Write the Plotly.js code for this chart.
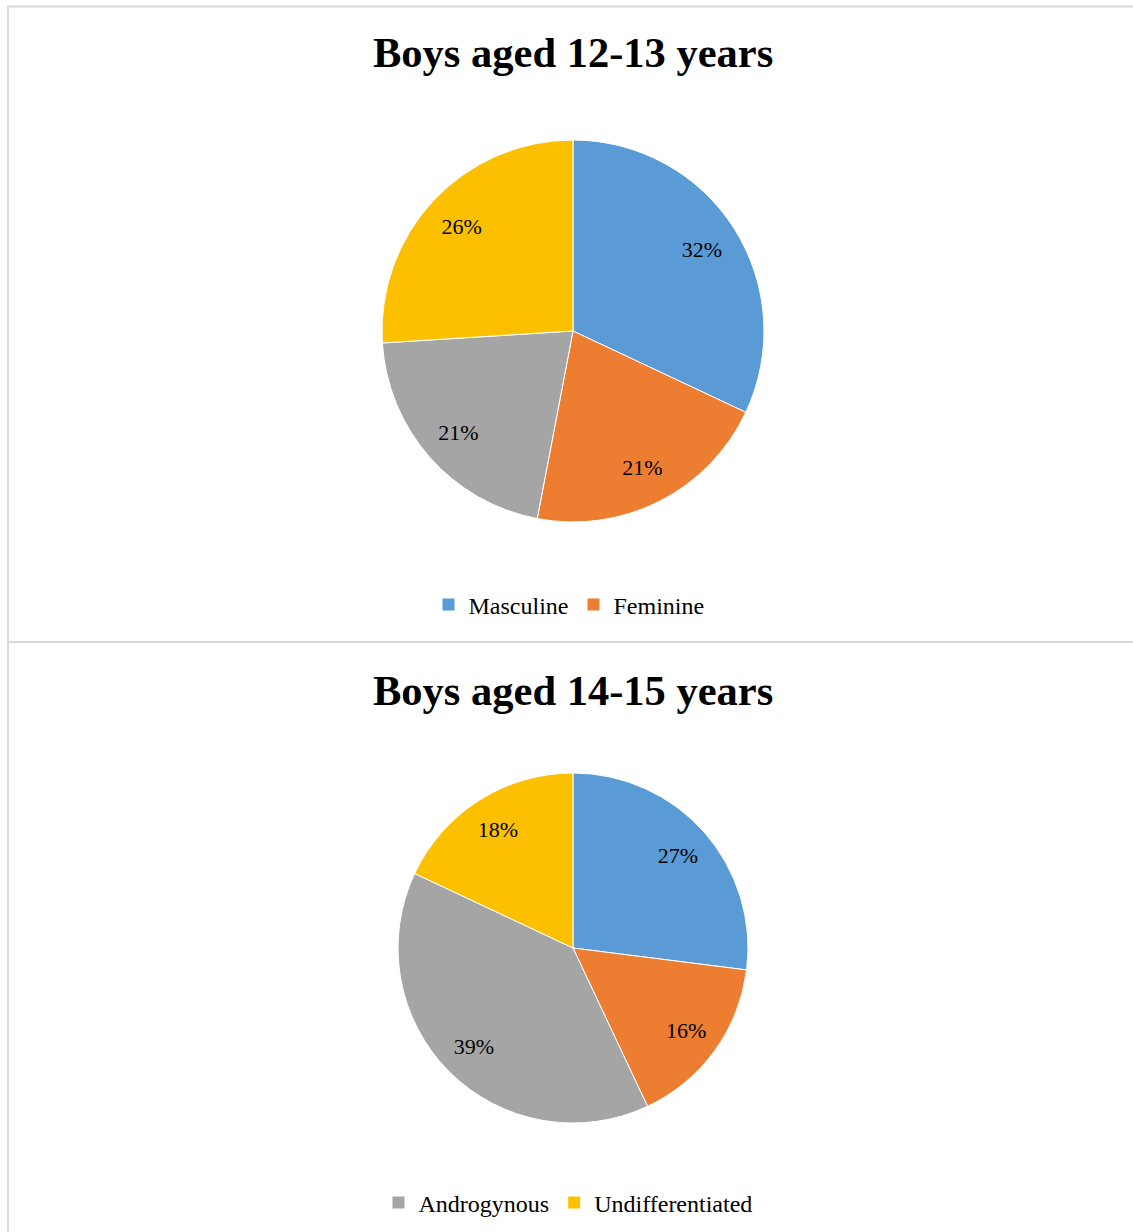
<!DOCTYPE html>
<html>
<head>
<meta charset="utf-8">
<script src="https://cdn.plot.ly/plotly-3.0.1.min.js"></script>
<style>html,body{margin:0;padding:0;background:#fff;}#chart{width:1133px;height:1232px;}</style>
</head>
<body>
<div id="chart"></div>
<script>
const categories = ["Masculine", "Feminine", "Androgynous", "Undifferentiated"];
const values1213 = [32, 21, 21, 26];
const values1415 = [27, 16, 39, 18];
const titles = ["Boys aged 12-13 years", "Boys aged 14-15 years"];
const legendTop = ["Masculine", "Feminine"];
const legendBottom = ["Androgynous", "Undifferentiated"];
const colors = ["#5b9bd5", "#ed7d31", "#a5a5a5", "#fcc000"];

const FONT = "Liberation Serif, Times New Roman, serif";
const W = 1133, H = 1232;

function pie(values, cx, cy, r) {
  return {
    type: "pie",
    labels: categories,
    values: values,
    sort: false,
    direction: "clockwise",
    rotation: 0,
    marker: {colors: colors, line: {color: "#ffffff", width: 1}},
    textinfo: "none",
    hoverinfo: "label+percent",
    showlegend: false,
    domain: {x: [(cx - r) / W, (cx + r) / W], y: [1 - (cy + r) / H, 1 - (cy - r) / H]}
  };
}
// transparent ring carrying the percentage labels, so they sit near the rim as in the reference
function labelRing(values, cx, cy, r) {
  return {
    type: "pie",
    labels: categories,
    values: values,
    sort: false,
    direction: "clockwise",
    rotation: 0,
    hole: 0.6,
    marker: {colors: ["rgba(0,0,0,0)", "rgba(0,0,0,0)", "rgba(0,0,0,0)", "rgba(0,0,0,0)"], line: {width: 0}},
    texttemplate: "%{percent:.0%}",
    textposition: "inside",
    insidetextorientation: "horizontal",
    textfont: {family: FONT, size: 22, color: "#000000"},
    hoverinfo: "skip",
    showlegend: false,
    domain: {x: [(cx - r) / W, (cx + r) / W], y: [1 - (cy + r) / H, 1 - (cy - r) / H]}
  };
}

const traces = [
  pie(values1213, 573, 331, 191),
  labelRing(values1213, 573, 331, 191),
  pie(values1415, 573, 948, 175),
  labelRing(values1415, 573, 948, 175)
];

legendTop.forEach(function (name) {
  traces.push({
    type: "scatter", mode: "markers", x: [null], y: [null], name: name,
    marker: {symbol: "square", size: 12, color: colors[categories.indexOf(name)]},
    legend: "legend", hoverinfo: "skip"
  });
});
legendBottom.forEach(function (name) {
  traces.push({
    type: "scatter", mode: "markers", x: [null], y: [null], name: name,
    marker: {symbol: "square", size: 12, color: colors[categories.indexOf(name)]},
    legend: "legend2", hoverinfo: "skip"
  });
});

const legendStyle = {
  orientation: "h", xanchor: "center", yanchor: "middle",
  font: {family: FONT, size: 24, color: "#000000"},
  bgcolor: "rgba(0,0,0,0)", itemclick: false, itemdoubleclick: false,
  itemsizing: "constant", tracegroupgap: 0
};

const layout = {
  width: W, height: H,
  margin: {l: 0, r: 0, t: 0, b: 0},
  paper_bgcolor: "#ffffff", plot_bgcolor: "#ffffff",
  xaxis: {visible: false}, yaxis: {visible: false},
  legend: Object.assign({x: 569 / W, y: 1 - 605 / H}, legendStyle),
  legend2: Object.assign({x: 568 / W, y: 1 - 1203 / H}, legendStyle),
  annotations: [
    {text: "<b>" + titles[0] + "</b>", x: 573 / W, y: 1 - 52 / H, xref: "paper", yref: "paper",
     xanchor: "center", yanchor: "middle", showarrow: false, font: {family: FONT, size: 42.5, color: "#000000"}},
    {text: "<b>" + titles[1] + "</b>", x: 573 / W, y: 1 - 690 / H, xref: "paper", yref: "paper",
     xanchor: "center", yanchor: "middle", showarrow: false, font: {family: FONT, size: 42.5, color: "#000000"}}
  ],
  shapes: [
    {type: "line", xref: "paper", yref: "paper", x0: 7 / W, x1: 1, y0: 1 - 6.5 / H, y1: 1 - 6.5 / H, line: {color: "#d9d9d9", width: 2}},
    {type: "line", xref: "paper", yref: "paper", x0: 8 / W, x1: 8 / W, y0: 0, y1: 1 - 6 / H, line: {color: "#d9d9d9", width: 2}},
    {type: "line", xref: "paper", yref: "paper", x0: 8 / W, x1: 1, y0: 1 - 642 / H, y1: 1 - 642 / H, line: {color: "#d9d9d9", width: 2}}
  ]
};

Plotly.newPlot("chart", traces, layout, {displayModeBar: false});
</script>
</body>
</html>
